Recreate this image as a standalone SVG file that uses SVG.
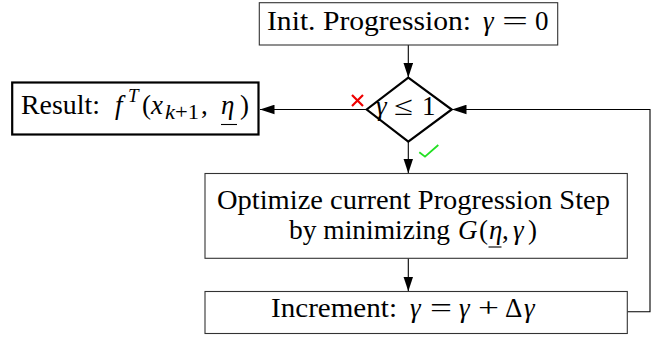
<svg xmlns="http://www.w3.org/2000/svg" width="659" height="339" viewBox="0 0 659 339">
<style>
text{font-family:"Liberation Serif","Times New Roman",serif;font-size:27px;fill:#000}
.it{font-style:italic}
.box{fill:#fff;stroke:#333;stroke-width:1.1}
.thick{fill:#fff;stroke:#000;stroke-width:2.2}
.conn{fill:none;stroke:#000;stroke-width:1.1}
.ul{stroke:#000;stroke-width:1.1}
</style>
<defs>
<marker id="ah" markerUnits="userSpaceOnUse" markerWidth="15" markerHeight="10" viewBox="0 0 15 10" refX="14.5" refY="5" orient="auto">
<path d="M0,0.2 L14.5,5 L0,9.8 Z" fill="#000"/>
</marker>
</defs>
<g id="connectors">
<line class="conn" x1="408.3" y1="45" x2="408.3" y2="77.5" marker-end="url(#ah)"/>
<line class="conn" x1="366.7" y1="109.5" x2="260" y2="109.5" marker-end="url(#ah)"/>
<line class="conn" x1="408.3" y1="141.7" x2="408.3" y2="173.3" marker-end="url(#ah)"/>
<line class="conn" x1="408.3" y1="258.3" x2="408.3" y2="291.3" marker-end="url(#ah)"/>
<polyline class="conn" points="627.3,311.7 650,311.7 650,109.5 452,109.5" marker-end="url(#ah)"/>
<g id="no-mark"><path d="M352,95 L363,106 M363,95 L352,106" stroke="#ee0000" stroke-width="2.2" fill="none"/></g>
<g id="yes-mark"><path d="M419.3,152.2 L425,156.7 L438.3,145" stroke="#22e022" stroke-width="1.8" fill="none"/></g>
</g>
<g id="init">
<rect class="box" x="259.3" y="2.7" width="298.4" height="42.3"/>
<text y="30"><tspan x="267" textLength="204" lengthAdjust="spacingAndGlyphs">Init. Progression:</tspan> <tspan x="483" class="it">γ</tspan> <tspan x="502" textLength="26" lengthAdjust="spacingAndGlyphs">=</tspan> <tspan x="535">0</tspan></text>
</g>
<g id="decision">
<polygon class="thick" points="408.3,77.7 451.7,109.5 408.3,141.7 366.7,109.5"/>
<text y="115"><tspan x="376" class="it">γ</tspan> <tspan x="394" textLength="19" lengthAdjust="spacingAndGlyphs">≤</tspan> <tspan x="422">1</tspan></text>
</g>
<g id="result">
<rect class="thick" x="12.2" y="82.5" width="246.3" height="52"/>
<text y="114"><tspan x="21" textLength="79" lengthAdjust="spacingAndGlyphs">Result:</tspan> <tspan x="115" class="it">f</tspan><tspan x="128" y="102" font-size="19" class="it">T</tspan><tspan x="142" y="114">(</tspan><tspan x="151" class="it">x</tspan><tspan x="165" y="119" font-size="20" textLength="34" lengthAdjust="spacingAndGlyphs"><tspan class="it">k</tspan>+1</tspan><tspan x="201" y="114">,</tspan> <tspan x="221" class="it">η</tspan><tspan x="240">)</tspan></text>
<line class="ul" x1="221" y1="124.5" x2="237" y2="124.5"/>
</g>
<g id="optimize">
<rect class="box" x="205" y="173.5" width="422.3" height="84.8"/>
<text y="208.5"><tspan x="217" textLength="393" lengthAdjust="spacingAndGlyphs">Optimize current Progression Step</tspan></text>
<text y="238.5"><tspan x="289" textLength="161" lengthAdjust="spacingAndGlyphs">by minimizing</tspan> <tspan x="458" class="it">G</tspan><tspan x="479">(</tspan><tspan x="489" class="it">η</tspan><tspan x="502">,</tspan> <tspan x="513" class="it">γ</tspan><tspan x="528">)</tspan></text>
<line class="ul" x1="488.5" y1="247" x2="501.5" y2="247"/>
</g>
<g id="increment">
<rect class="box" x="205" y="291.5" width="422.3" height="42"/>
<text y="317"><tspan x="271" textLength="126" lengthAdjust="spacingAndGlyphs">Increment:</tspan> <tspan x="410" class="it">γ</tspan> <tspan x="430" textLength="22" lengthAdjust="spacingAndGlyphs">=</tspan> <tspan x="459" class="it">γ</tspan> <tspan x="478" textLength="21" lengthAdjust="spacingAndGlyphs">+</tspan> <tspan x="505">Δ</tspan><tspan x="524" class="it">γ</tspan></text>
</g>
</svg>
